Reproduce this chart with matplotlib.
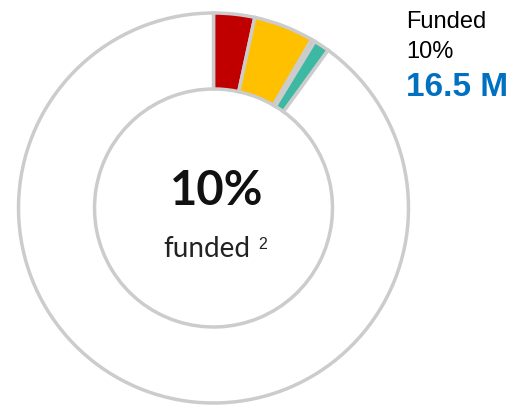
#!/usr/bin/env python3
"""
资金进度环形图
"""

import matplotlib
matplotlib.use("Agg")
import matplotlib.pyplot as plt

# 数据
segment_names = ['已拨付', '已承诺', '其他', '已到账']
segment_values = [3.4, 5.0, 0.3, 1.3]   # 占总额百分比
remaining_value = 90.0
segment_colors = ['#C00000', '#FFC000', '#4472C4', '#3DB9A3']

center_label = '10%'
center_sub = 'funded'
center_sup = '2'
side_lines = ['Funded', '10%']
side_amount = '16.5 M'


def create_chart():
    """绘制环形图"""
    fig = plt.figure(figsize=(5.14, 4.06), dpi=100)
    ax = fig.add_axes([0, 0, 1, 1])

    values = segment_values + [remaining_value]
    colors = segment_colors + ['white']
    ax.pie(values, colors=colors, startangle=90, counterclock=False,
           center=(213.5, 197), radius=195, frame=True,
           wedgeprops=dict(width=76, edgecolor='#CCCCCC', linewidth=2.5))
    ax.set_xlim(0, 514)
    ax.set_ylim(0, 406)
    ax.set_aspect('equal')
    ax.axis('off')

    # 中心文字
    ax.text(217, 201, center_label, ha='center', va='baseline',
            fontsize=34, fontweight='bold', family='Lato', color='#111111')
    ax.text(163, 149, center_sub, ha='left', va='baseline',
            fontsize=20, family='Lato', color='#222222')
    ax.text(258, 157, center_sup, ha='left', va='baseline',
            fontsize=11.5, family='Liberation Sans', color='#222222')

    # 右侧说明
    ax.text(406, 378, side_lines[0], ha='left', va='baseline',
            fontsize=17, family='Liberation Sans', color='black')
    ax.text(406, 348, side_lines[1], ha='left', va='baseline',
            fontsize=17, family='Liberation Sans', color='black')
    ax.text(406, 310, side_amount, ha='left', va='baseline',
            fontsize=24, fontweight='bold', family='Liberation Sans', color='#0070C0')

    fig.savefig('out.png', dpi=100)


if __name__ == "__main__":
    create_chart()
